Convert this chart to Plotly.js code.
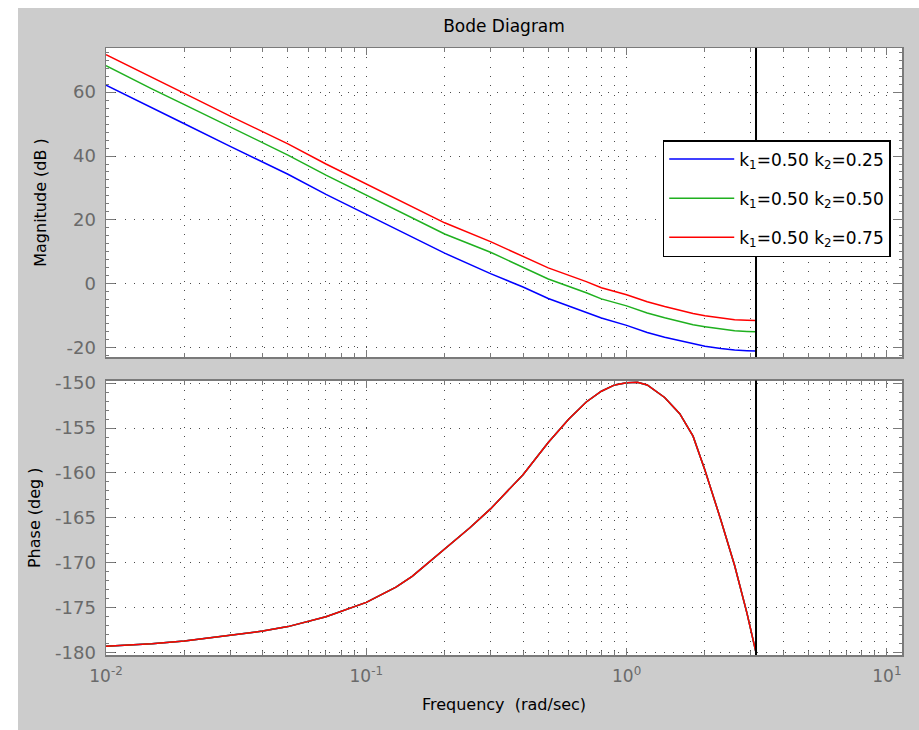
<!DOCTYPE html>
<html><head><meta charset="utf-8">
<script src="https://cdn.plot.ly/plotly-3.0.1.min.js"></script>
<style>
html,body{margin:0;padding:0;background:#ffffff;width:919px;height:730px;overflow:hidden}
#chart{position:absolute;left:18px;top:8px;width:901px;height:722px}
</style>
</head><body><div id="chart"></div>
<script>
// ---- data ----
const freq = [0.01, 0.015, 0.02, 0.03, 0.04, 0.05, 0.07, 0.1, 0.15, 0.2, 0.3, 0.4, 0.5, 0.7, 0.8, 1.0, 1.2, 1.4, 1.6, 1.8, 2.0, 2.3, 2.6, 2.9, 3.1416];
const magK2_025 = [62.2, 55.0, 50.1, 43.0, 38.2, 34.3, 28.0, 21.8, 14.6, 9.6, 3.2, -1.0, -4.6, -8.9, -10.7, -13.0, -15.2, -16.7, -17.8, -18.8, -19.5, -20.2, -20.7, -20.9, -21.0];
const magK2_050 = [68.3, 61.0, 56.1, 49.0, 44.2, 40.3, 34.0, 27.8, 20.6, 15.6, 9.9, 5.3, 1.5, -2.8, -4.7, -6.9, -9.1, -10.6, -11.8, -12.8, -13.4, -14.2, -14.7, -14.9, -15.0];
const magK2_075 = [71.7, 64.5, 59.6, 52.5, 47.7, 43.8, 37.5, 31.3, 24.1, 19.1, 13.2, 8.5, 5.0, 0.7, -1.2, -3.4, -5.6, -7.1, -8.3, -9.3, -10.0, -10.7, -11.2, -11.4, -11.5];
const phaseFreq = [0.01, 0.015, 0.02, 0.03, 0.04, 0.05, 0.07, 0.1, 0.13, 0.15, 0.2, 0.25, 0.3, 0.4, 0.5, 0.6, 0.7, 0.8, 0.9, 1.0, 1.1, 1.2, 1.4, 1.6, 1.8, 2.0, 2.3, 2.6, 2.9, 3.1416];
const phaseDeg = [-179.3, -179.0, -178.7, -178.1, -177.6, -177.1, -176.0, -174.4, -172.7, -171.5, -168.5, -166.1, -164.0, -160.2, -156.6, -154.0, -152.1, -150.9, -150.2, -149.95, -149.9, -150.2, -151.6, -153.4, -155.9, -159.7, -165.2, -170.3, -175.6, -180.0];
const nyquistFreq = 3.1416;
const seriesNames = ['k<sub>1</sub>=0.50 k<sub>2</sub>=0.25', 'k<sub>1</sub>=0.50 k<sub>2</sub>=0.50', 'k<sub>1</sub>=0.50 k<sub>2</sub>=0.75'];
const seriesColors = ['#0000ff', '#1fb01f', '#ff0000'];
const magTickVals = [-20, 0, 20, 40, 60];
const magTickText = ['-20', '0', '20', '40', '60'];
const phaseTickVals = [-180, -175, -170, -165, -160, -155, -150];
const phaseTickText = ['-180', '-175', '-170', '-165', '-160', '-155', '-150'];
const freqTickVals = [0.01, 0.1, 1, 10];
const freqTickText = ['10<sup>-2</sup>', '10<sup>-1</sup>', '10<sup>0</sup>', '10<sup>1</sup>'];

// minor log ticks (2..9 of each decade)
const freqMinorTicks = [];
[0.01, 0.1, 1].forEach(d => { for (let m = 2; m <= 9; m++) freqMinorTicks.push(+(d * m).toPrecision(3)); });

const mags = [magK2_025, magK2_050, magK2_075];
const traces = [];
mags.forEach((m, i) => {
  traces.push({x: freq, y: m, type: 'scatter', mode: 'lines', name: seriesNames[i],
    line: {color: seriesColors[i], width: 1.5}, xaxis: 'x', yaxis: 'y', legendgroup: 'g' + i, showlegend: true});
});
mags.forEach((m, i) => {
  traces.push({x: phaseFreq, y: phaseDeg, type: 'scatter', mode: 'lines', name: seriesNames[i],
    line: {color: seriesColors[i], width: 1.5}, xaxis: 'x2', yaxis: 'y2', legendgroup: 'g' + i, showlegend: false});
});

const axCol = '#7a7a7a';
const gridCol = '#4a4a4a';
const gridDash = '1px,8.3px';
const tickFont = {family: 'DejaVu Sans', size: 18, color: '#6a6a6a'};
const titleFont = {family: 'DejaVu Sans', size: 16, color: '#000000'};

function xAxis(anchor, showLabels) {
  return {type: 'log', range: [-2, 1.058], anchor: anchor, domain: [0, 1],
    tickmode: 'array', tickvals: freqTickVals, ticktext: freqTickText, showticklabels: showLabels,
    ticks: 'inside', ticklen: 7, tickwidth: 1, tickcolor: axCol,
    showline: true, linecolor: axCol, linewidth: 1.5, mirror: 'ticks', zeroline: false,
    showgrid: true, gridcolor: gridCol, griddash: gridDash, gridwidth: 1,
    minor: {tickmode: 'array', tickvals: freqMinorTicks, ticks: 'inside', ticklen: 4, tickcolor: axCol,
      showgrid: true, gridcolor: gridCol, griddash: gridDash, gridwidth: 1},
    tickfont: {family: 'DejaVu Sans', size: 17, color: '#6a6a6a'}, ticklabelstandoff: 5};
}

const layout = {
  width: 901, height: 722,
  margin: {l: 88, r: 17, t: 40, b: 75},
  paper_bgcolor: '#cccccc', plot_bgcolor: '#ffffff',
  title: {text: 'Bode Diagram', font: {family: 'DejaVu Sans', size: 17, color: '#000000'},
    x: 0.5, xref: 'paper', xanchor: 'center', y: 1 - 18 / 722, yref: 'container', yanchor: 'middle'},
  showlegend: true,
  legend: {x: 0.6994, y: 0.8484, xanchor: 'left', yanchor: 'top', bgcolor: '#ffffff',
    bordercolor: '#000000', borderwidth: 1.5, font: {family: 'DejaVu Sans', size: 17, color: '#000000'},
    itemwidth: 65, tracegroupgap: 14},
  xaxis: xAxis('y', false),
  xaxis2: Object.assign(xAxis('y2', true), {title: {text: 'Frequency\u00a0\u00a0(rad/sec)', font: titleFont, standoff: 14}}),
  yaxis: {domain: [0.4909, 1], range: [-22.9, 73.8], anchor: 'x',
    tickmode: 'array', tickvals: magTickVals, ticktext: magTickText, tickfont: tickFont,
    ticks: 'inside', ticklen: 9, tickwidth: 1, tickcolor: axCol,
    showline: true, linecolor: axCol, linewidth: 1.5, mirror: 'ticks', zeroline: false,
    showgrid: true, gridcolor: gridCol, griddash: gridDash, gridwidth: 1,
    minor: {dtick: 2.5, tick0: 0, ticks: 'inside', ticklen: 3, tickcolor: axCol, showgrid: false},
    ticklabelstandoff: 5,
    title: {text: 'Magnitude (dB\u00a0)', font: titleFont, standoff: 16}},
  yaxis2: {domain: [0, 0.4522], range: [-180.26, -149.71], anchor: 'x2',
    tickmode: 'array', tickvals: phaseTickVals, ticktext: phaseTickText, tickfont: tickFont,
    ticks: 'inside', ticklen: 9, tickwidth: 1, tickcolor: axCol,
    showline: true, linecolor: axCol, linewidth: 1.5, mirror: 'ticks', zeroline: false,
    showgrid: true, gridcolor: gridCol, griddash: gridDash, gridwidth: 1,
    minor: {dtick: 1, tick0: 0, ticks: 'inside', ticklen: 3, tickcolor: axCol, showgrid: false},
    ticklabelstandoff: 5,
    title: {text: 'Phase (deg\u00a0)', font: titleFont, standoff: 10}},
  shapes: [
    {type: 'line', xref: 'x', yref: 'y domain', x0: nyquistFreq, x1: nyquistFreq, y0: 0, y1: 1, line: {color: '#000000', width: 2}},
    {type: 'line', xref: 'x2', yref: 'y2 domain', x0: nyquistFreq, x1: nyquistFreq, y0: 0, y1: 1, line: {color: '#000000', width: 2}}
  ]
};

Plotly.newPlot('chart', traces, layout, {displayModeBar: false, staticPlot: true});
</script>
</body></html>
